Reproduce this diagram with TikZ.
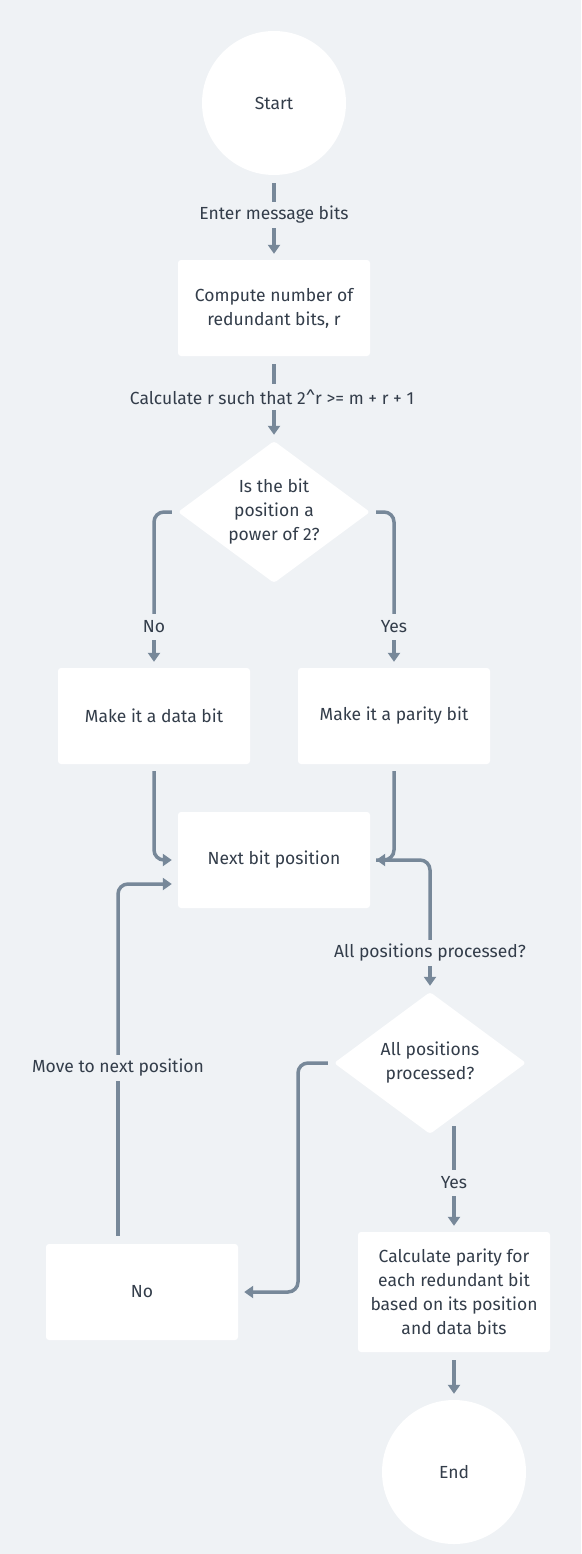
\documentclass[tikz,border=0pt]{standalone}
\usepackage{fontspec}
\setmainfont{Fira Sans}
\usetikzlibrary{shapes.geometric,arrows.meta}
\definecolor{bg}{HTML}{EFF2F5}
\definecolor{lc}{HTML}{778899}
\definecolor{tc}{HTML}{333D4A}
\begin{document}
\begin{tikzpicture}[x=1pt,y=-1pt,
  every node/.style={font=\fontsize{17.5}{24}\selectfont, text=tc},
  box/.style={fill=white, rounded corners=3pt, minimum width=192pt, minimum height=96pt, align=center, inner sep=0pt},
  circ/.style={circle, fill=white, minimum size=144pt, inner sep=0pt},
  dia/.style={diamond, fill=white, aspect=1.35, minimum width=192pt, minimum height=142pt, inner sep=0pt, align=center, rounded corners=3pt},
  lbl/.style={inner sep=0pt, minimum height=26pt},
  line/.style={draw=lc, line width=3.5pt, rounded corners=10pt},
  arr/.style={line, -{Triangle[length=9pt,width=12pt]}, shorten >=6pt}]
\fill[bg] (0,0) rectangle (581,1554);
\useasboundingbox (0,0) rectangle (581,1554);
% nodes
\node[circ] (start) at (274,103) {Start};
\node[lbl] (l1) at (274,215) {Enter message bits};
\node[box] (b1) at (274,308) {Compute number of\\redundant bits, r};
\node[lbl] (l2) at (272,397) {Calculate r such that 2\textasciicircum r >= m + r + 1};
\node[dia] (d1) at (274,512) {Is the bit\\position a\\power of 2?};
\node[lbl] (lno) at (154,627) {No};
\node[lbl] (lyes) at (394,627) {Yes};
\node[box] (data) at (154,716) {Make it a data bit};
\node[box] (par) at (394,716) {Make it a parity bit};
\node[box] (next) at (274,860) {Next bit position};
\node[lbl] (lall) at (430,953) {All positions processed?};
\node[dia] (d2) at (430,1063) {All positions\\processed?};
\node[lbl] (lmove) at (118,1068) {Move to next position};
\node[box] (nob) at (142,1292) {No};
\node[lbl] (lyes2) at (454,1183) {Yes};
\node[box, minimum height=120pt] (calc) at (454,1292) {Calculate parity for\\each redundant bit\\based on its position\\and data bits};
\node[circ] (end) at (454,1472) {End};
\coordinate (c2) at (298,1063);
% connectors
\draw[line, shorten <=8pt] (start) -- (l1);
\draw[arr] (l1) -- (b1);
\draw[line, shorten <=8pt] (b1) -- (l2.north -| b1);
\draw[arr] (l2.south -| b1) -- (d1);
\draw[line] ([xshift=-6pt]d1.west) -| (lno);
\draw[arr] (lno) -- (data);
\draw[line] ([xshift=6pt]d1.east) -| (lyes);
\draw[arr] (lyes) -- (par);
\draw[arr, shorten <=7pt] (data) |- (next);
\draw[arr, shorten <=7pt] (par) |- (next);
\draw[line] ([xshift=6pt]next.east) -| (lall);
\draw[arr] (lall) -- (d2);
\draw[arr] ([xshift=-6pt]d2.west) -- (c2) |- (nob);
\draw[line] ([xshift=-24pt,yshift=8pt]nob.north) -- (lmove.south -| 118,0);
\draw[arr] (lmove.north -| 118,0) |- ([yshift=-24pt]next.west);
\draw[line] ([xshift=24pt,yshift=8pt]d2.south) -- (lyes2);
\draw[arr] (lyes2) -- (calc);
\draw[arr, shorten <=8pt] (calc) -- (end);
\end{tikzpicture}
\end{document}
